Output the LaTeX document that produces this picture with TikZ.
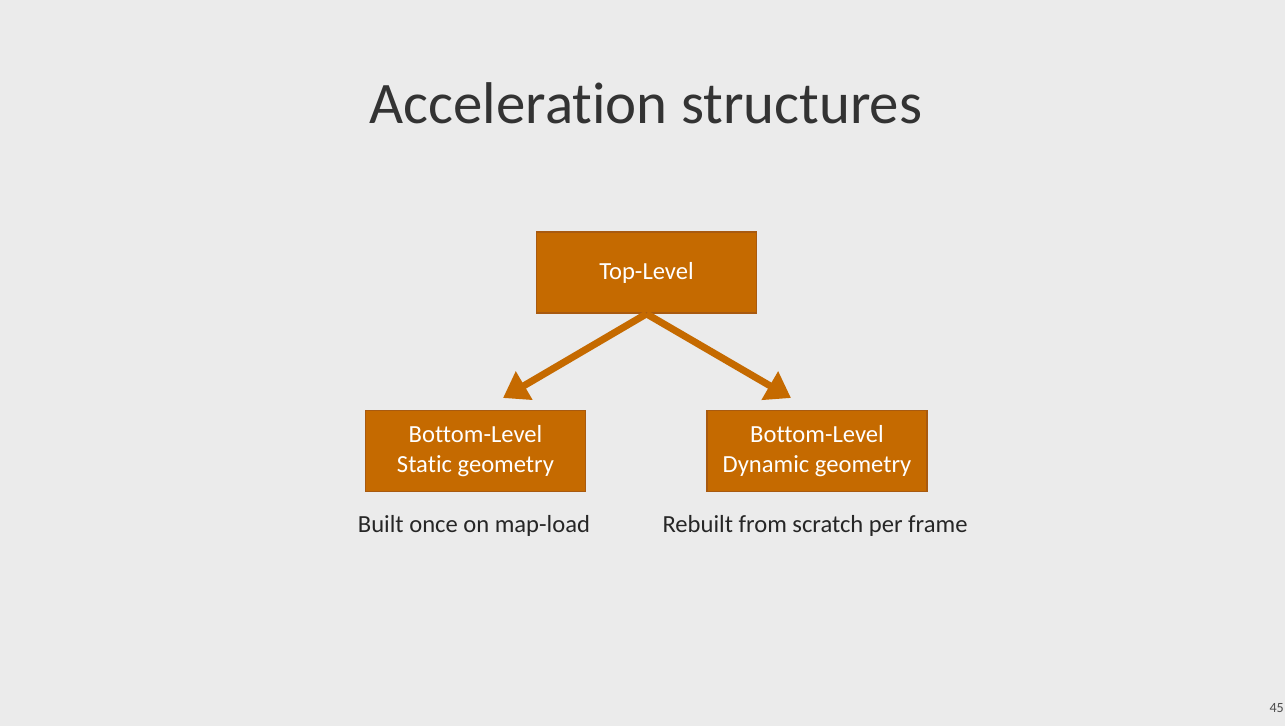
\documentclass[tikz,border=0pt]{standalone}
\usepackage{fontspec}
\setmainfont[Ligatures={NoCommon,NoRequired,NoContextual}]{Carlito}
\usetikzlibrary{arrows.meta}
\definecolor{bg}{HTML}{EBEBEB}
\definecolor{boxfill}{HTML}{C56A00}
\definecolor{boxline}{HTML}{A85A10}
\begin{document}
\begin{tikzpicture}[x=0.02cm,y=-0.02cm,
  box/.style={draw=boxline,line width=1pt,fill=boxfill,text=white,minimum width=220*0.02cm,minimum height=81*0.02cm,align=center,font=\fontsize{14}{17}\selectfont,inner sep=0pt},
  conn/.style={draw=boxfill,line width=4pt,-{Triangle[length=14pt,width=18pt]}},
  lbl/.style={font=\fontsize{14}{17}\selectfont,text=black!85}]
\fill[bg] (0,0) rectangle (1285,726);
\useasboundingbox (0,0) rectangle (1285,726);
\node[font=\fontsize{33.5}{40}\selectfont, text=black!80] (title) at (646,103) {Acceleration structures};
\node[box] (top) at (646.5,272.5) {Top-Level};
\node[box] (left) at (475.5,451) {Bottom-Level\\Static geometry};
\node[box] (right) at (817,451) {Bottom-Level\\Dynamic geometry};
\coordinate (la) at (503,398);
\coordinate (ra) at (791,398);
\draw[conn] (top.south) -- (la);
\draw[conn] (top.south) -- (ra);
\node[lbl] (l1) at (474,526) {Built once on map-load};
\node[lbl] (l2) at (815,526) {Rebuilt from scratch per frame};
\node[font=\fontsize{8}{9}\selectfont,text=black!70,anchor=east] (pg) at (1290,708) {45};
\end{tikzpicture}
\end{document}
